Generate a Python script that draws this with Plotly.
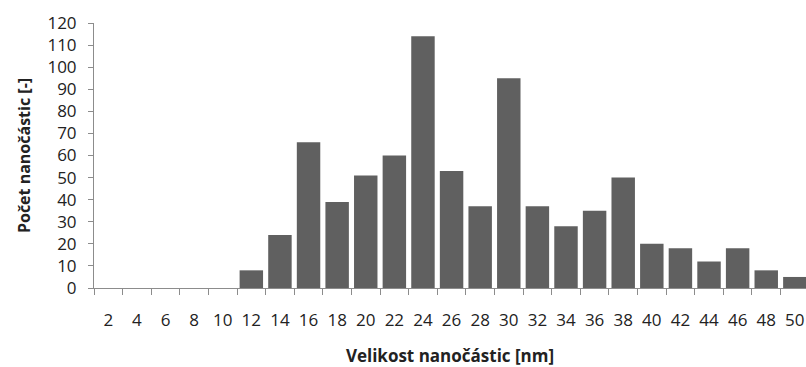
import plotly.graph_objects as go

# Particle size classes (nm) and counts per class
sizes = [str(s) for s in range(2, 52, 2)]
counts = [0, 0, 0, 0, 0, 8, 24, 66, 39, 51, 60, 114, 53, 37, 95, 37, 28, 35, 50, 20, 18, 12, 18, 8, 5]
y_ticks = list(range(0, 121, 10))

axis_color = "#8c8c8c"
text_color = "#222222"
font_family = "Open Sans"

fig = go.Figure(
    go.Bar(
        x=sizes,
        y=counts,
        marker=dict(color="#606060", line=dict(width=0)),
        width=0.82,
    )
)

fig.update_layout(
    width=806,
    height=367,
    margin=dict(l=94, r=0, t=23, b=79),
    paper_bgcolor="white",
    plot_bgcolor="white",
    showlegend=False,
    font=dict(family=font_family, size=17, color=text_color),
    xaxis=dict(
        type="category",
        range=[-0.5, 24.39],
        showline=True,
        linecolor=axis_color,
        linewidth=1,
        ticks="outside",
        tickson="boundaries",
        ticklen=6,
        tickcolor=axis_color,
        tickangle=0,
        ticklabelstandoff=17,
        showgrid=False,
        zeroline=False,
        title=dict(
            text="<b>Velikost nanočástic [nm]</b>",
            font=dict(family=font_family, size=17, color=text_color),
            standoff=22,
        ),
    ),
    yaxis=dict(
        range=[0, 120],
        tickvals=y_ticks,
        showline=True,
        linecolor=axis_color,
        linewidth=1,
        ticks="outside",
        ticklen=5,
        tickcolor=axis_color,
        ticklabelstandoff=8,
        showgrid=False,
        zeroline=False,
        title=dict(
            text="<b>Počet nanočástic [-]</b>",
            font=dict(family=font_family, size=16, color=text_color),
            standoff=12,
        ),
    ),
)

fig.write_html("out.html")
